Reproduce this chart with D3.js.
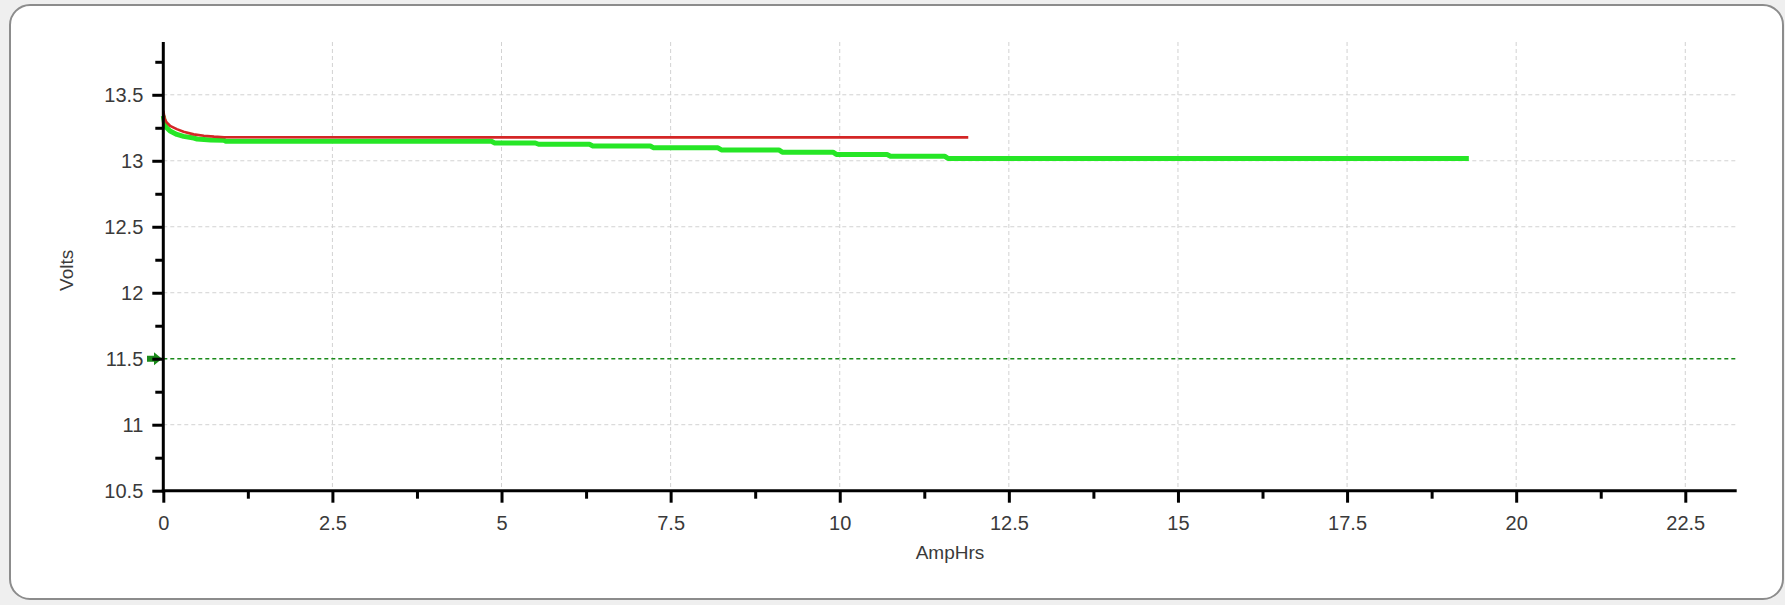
<!DOCTYPE html>
<html>
<head>
<meta charset="utf-8">
<script src="https://cdn.jsdelivr.net/npm/d3@7"></script>
<style>
  html, body { margin: 0; padding: 0; background: #efefef; }
  svg { display: block; }
  text { font-family: "Liberation Sans", Arial, sans-serif; fill: #3a3a3a; }
</style>
</head>
<body>
<svg id="chart" width="1785" height="605"></svg>
<script>
// ---- data ----
const redAh = [0, 0.02, 0.05, 0.1, 0.2, 0.3, 0.45, 0.6, 0.75, 0.9, 11.9];
const redV  = [13.38, 13.32, 13.29, 13.265, 13.24, 13.22, 13.20, 13.19, 13.183, 13.178, 13.177];

const greenAh = [0, 0.02, 0.05, 0.1, 0.2, 0.3, 0.45, 0.5, 0.7, 0.9, 0.92, 4.85, 4.9, 5.5, 5.55,
                 6.3, 6.35, 7.2, 7.25, 8.2, 8.25, 9.1, 9.15, 9.9, 9.95, 10.7, 10.75, 11.55, 11.6, 19.3];
const greenV  = [13.34, 13.28, 13.25, 13.225, 13.2, 13.185, 13.172, 13.165, 13.158, 13.155, 13.148, 13.148, 13.135, 13.135, 13.125,
                 13.125, 13.112, 13.112, 13.098, 13.098, 13.082, 13.082, 13.065, 13.065, 13.048, 13.048, 13.035, 13.035, 13.018, 13.018];

const thresholdV = 11.5;

const xMajor = [0, 2.5, 5, 7.5, 10, 12.5, 15, 17.5, 20, 22.5];
const xMinor = [1.25, 3.75, 6.25, 8.75, 11.25, 13.75, 16.25, 18.75, 21.25];
const yMajor = [10.5, 11, 11.5, 12, 12.5, 13, 13.5];
const yMinor = [10.75, 11.25, 11.75, 12.25, 12.75, 13.25, 13.75];
const xGrid = [2.5, 5, 7.5, 10, 12.5, 15, 17.5, 20, 22.5];
const yGrid = [11, 12, 12.5, 13, 13.5];

const xDomain = [0, 23.26];
const yDomain = [10.5, 13.9];

// ---- layout ----
const svg = d3.select("#chart");
const pL = 163.3, pR = 1736.7, pT = 42, pB = 490.7;
const x = d3.scaleLinear().domain(xDomain).range([pL, pR]);
const y = d3.scaleLinear().domain(yDomain).range([pB, pT]);

// panel
svg.append("rect").attr("x", 10).attr("y", 5).attr("width", 1773).attr("height", 594)
  .attr("rx", 20).attr("ry", 20).attr("fill", "#ffffff").attr("stroke", "#8c8c8c").attr("stroke-width", 2);

// grid
const grid = svg.append("g");
grid.selectAll(".vg").data(xGrid).join("line")
  .attr("x1", d => x(d)).attr("x2", d => x(d)).attr("y1", pT).attr("y2", pB)
  .attr("stroke", "#d2d2d2").attr("stroke-width", 1).attr("stroke-dasharray", "4,3");
grid.selectAll(".hg").data(yGrid).join("line")
  .attr("x1", pL).attr("x2", pR).attr("y1", d => y(d)).attr("y2", d => y(d))
  .attr("stroke", "#d2d2d2").attr("stroke-width", 1).attr("stroke-dasharray", "4,3");

// threshold line
svg.append("line").attr("x1", pL).attr("x2", pR)
  .attr("y1", y(thresholdV)).attr("y2", y(thresholdV))
  .attr("stroke", "#1a8a1a").attr("stroke-width", 1.5).attr("stroke-dasharray", "4,3");
const ty = y(thresholdV);
svg.append("path")
  .attr("d", `M147,${ty-3} L154,${ty-3} L154,${ty-6.5} L162,${ty} L154,${ty+6.5} L154,${ty+3} L147,${ty+3} Z`)
  .attr("fill", "#1a8a1a");

// series
const line = d3.line().x(d => x(d[0])).y(d => y(d[1]));
const greenPts = greenAh.map((a, i) => [a, greenV[i]]);
const redPts = redAh.map((a, i) => [a, redV[i]]);
svg.append("path").attr("d", line(greenPts)).attr("fill", "none")
  .attr("stroke", "#26e626").attr("stroke-width", 5).attr("stroke-linejoin", "round");
svg.append("path").attr("d", line(redPts)).attr("fill", "none")
  .attr("stroke", "#d42626").attr("stroke-width", 2.6).attr("stroke-linejoin", "round");

// axes
function styleAxis(g) {
  g.select(".domain").remove();
  g.selectAll(".tick line").attr("stroke", "#000").attr("stroke-width", 3);
  g.selectAll(".tick text").attr("font-size", 20).attr("fill", "#3a3a3a")
    .attr("font-family", "Liberation Sans, Arial, sans-serif");
}
const yAx = svg.append("g").attr("transform", `translate(${pL},0)`)
  .call(d3.axisLeft(y).tickValues(yMajor).tickSize(11).tickPadding(9).tickFormat(d => String(d)));
styleAxis(yAx);
const yAxMin = svg.append("g").attr("transform", `translate(${pL},0)`)
  .call(d3.axisLeft(y).tickValues(yMinor).tickSize(8).tickFormat(""));
styleAxis(yAxMin);
const xAx = svg.append("g").attr("transform", `translate(0,${pB})`)
  .call(d3.axisBottom(x).tickValues(xMajor).tickSize(12).tickPadding(13).tickFormat(d => String(d)));
styleAxis(xAx);
const xAxMin = svg.append("g").attr("transform", `translate(0,${pB})`)
  .call(d3.axisBottom(x).tickValues(xMinor).tickSize(8).tickFormat(""));
styleAxis(xAxMin);

// axis lines
svg.append("line").attr("x1", pL).attr("x2", pL).attr("y1", pT).attr("y2", pB + 1.5)
  .attr("stroke", "#000").attr("stroke-width", 3);
svg.append("line").attr("x1", pL - 1.5).attr("x2", pR).attr("y1", pB).attr("y2", pB)
  .attr("stroke", "#000").attr("stroke-width", 3);

// axis titles
svg.append("text").attr("x", (pL + pR) / 2).attr("y", 559)
  .attr("text-anchor", "middle").attr("font-size", 19).text("AmpHrs");
svg.append("text").attr("transform", `translate(73,${(pT + pB) / 2 + 4}) rotate(-90)`)
  .attr("text-anchor", "middle").attr("font-size", 19).text("Volts");
</script>
</body>
</html>
